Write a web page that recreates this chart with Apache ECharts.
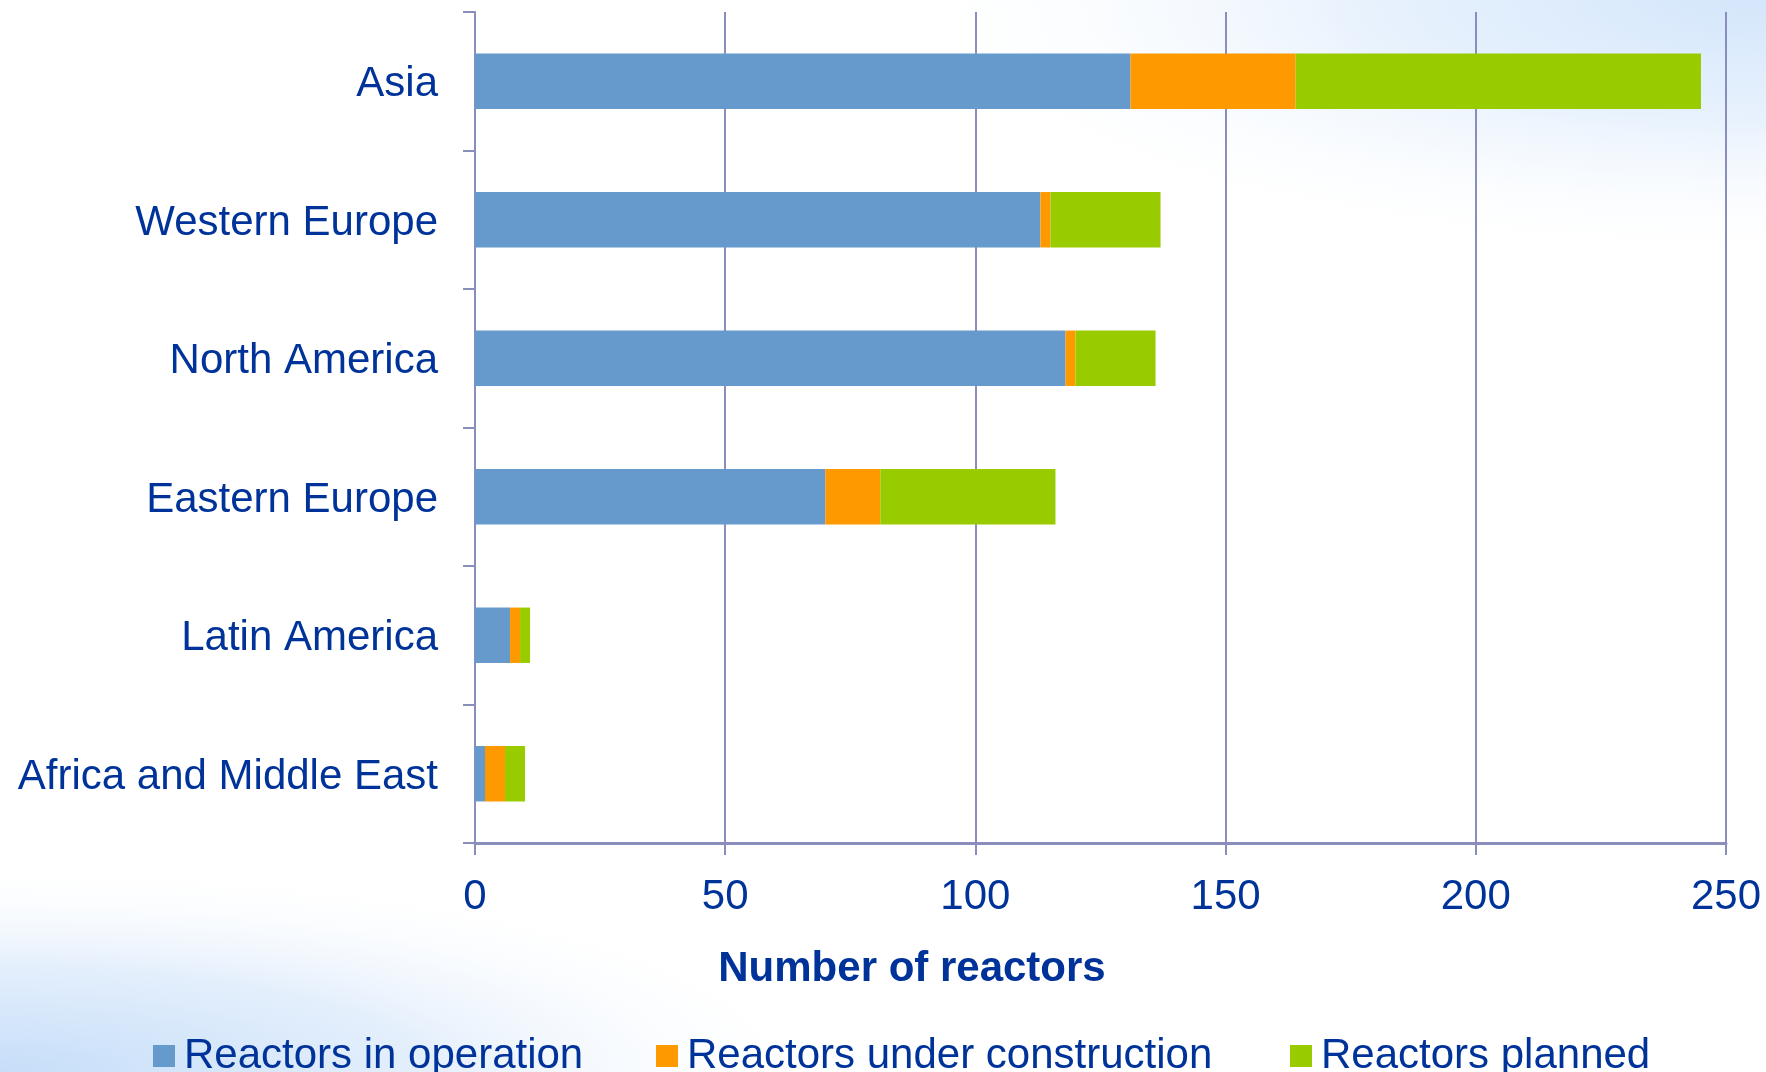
<!DOCTYPE html>
<html>
<head>
<meta charset="utf-8">
<script src="https://cdn.jsdelivr.net/npm/echarts@6/dist/echarts.min.js"></script>
<style>
html,body{margin:0;padding:0;background:#fff;}
#chart{width:1766px;height:1072px;}
</style>
</head>
<body>
<div id="chart"></div>
<script>
const regions = ['Asia', 'Western Europe', 'North America', 'Eastern Europe', 'Latin America', 'Africa and Middle East'];
const inOperation = [131, 113, 118, 70, 7, 2];
const underConstruction = [33, 2, 2, 11, 2, 4];
const planned = [81, 22, 16, 35, 2, 4];
const seriesNames = ['Reactors in operation', 'Reactors under construction', 'Reactors planned'];
const xTicks = [0, 50, 100, 150, 200, 250];

const TEXT = '#003399';
const AXIS = '#8a8ebd';
const FONT = '"Liberation Sans", Arial, sans-serif';
const colors = ['#6699CC', '#FF9900', '#99CC00'];

const chart = echarts.init(document.getElementById('chart'), null, {renderer: 'canvas'});

const option = {
  backgroundColor: '#ffffff',
  animation: false,
  graphic: [
    {
      type: 'rect', z: -10, silent: true,
      x: 1766, y: 0, scaleX: 1, scaleY: 0.3,
      shape: {x: -900, y: -900, width: 1800, height: 1800},
      style: {fill: {type: 'radial', x: 0.5, y: 0.5, r: 0.5,
        colorStops: [{offset: 0, color: '#d4e6fb'}, {offset: 0.45, color: '#e8f2fd'}, {offset: 1, color: 'rgba(255,255,255,0)'}]}}
    },
    {
      type: 'rect', z: -10, silent: true,
      x: 0, y: 1072, scaleX: 1, scaleY: 0.25,
      shape: {x: -850, y: -850, width: 1700, height: 1700},
      style: {fill: {type: 'radial', x: 0.5, y: 0.5, r: 0.5,
        colorStops: [{offset: 0, color: '#c6def9'}, {offset: 0.5, color: '#e4effc'}, {offset: 1, color: 'rgba(255,255,255,0)'}]}}
    },
    {
      type: 'text', x: 912, y: 969, z: 10,
      style: {text: 'Number of reactors', font: 'bold 42px ' + FONT, fill: TEXT,
        textAlign: 'center', textVerticalAlign: 'middle'}
    }
  ],
  legend: seriesNames.map((n, i) => ({
    data: [n],
    left: [152, 655, 1289][i] - 4,
    top: 1030,
    icon: 'rect',
    itemWidth: 22,
    itemHeight: 22,
    selectedMode: false,
    textStyle: {color: TEXT, fontSize: 42, fontFamily: FONT, padding: [0, 0, 0, 4]}
  })),
  grid: {left: 475, right: 40, top: 12, bottom: 229, containLabel: false},
  xAxis: {
    type: 'value',
    min: xTicks[0],
    max: xTicks[xTicks.length - 1],
    interval: 50,
    axisLine: {show: true, lineStyle: {color: AXIS, width: 3}},
    axisTick: {show: true, length: 12, lineStyle: {color: AXIS, width: 2}},
    splitLine: {show: true, lineStyle: {color: AXIS, width: 2}},
    axisLabel: {color: TEXT, fontSize: 42, fontFamily: FONT, margin: 33}
  },
  yAxis: {
    type: 'category',
    data: regions,
    inverse: true,
    axisLine: {show: true, lineStyle: {color: AXIS, width: 2}},
    axisTick: {show: true, length: 12, lineStyle: {color: AXIS, width: 2}},
    splitLine: {show: false},
    axisLabel: {
      color: TEXT, fontSize: 42, fontFamily: FONT, margin: 37,
      formatter: v => '{a|' + v + '}',
      rich: {a: {color: TEXT, fontSize: 42, fontFamily: FONT, padding: [7, 0, 0, 0]}}
    }
  },
  series: [inOperation, underConstruction, planned].map((d, i) => ({
    name: seriesNames[i],
    type: 'bar',
    stack: 'total',
    data: d,
    barWidth: '40%',
    itemStyle: {color: colors[i]},
    z: 3
  }))
};
chart.setOption(option);
</script>
</body>
</html>
